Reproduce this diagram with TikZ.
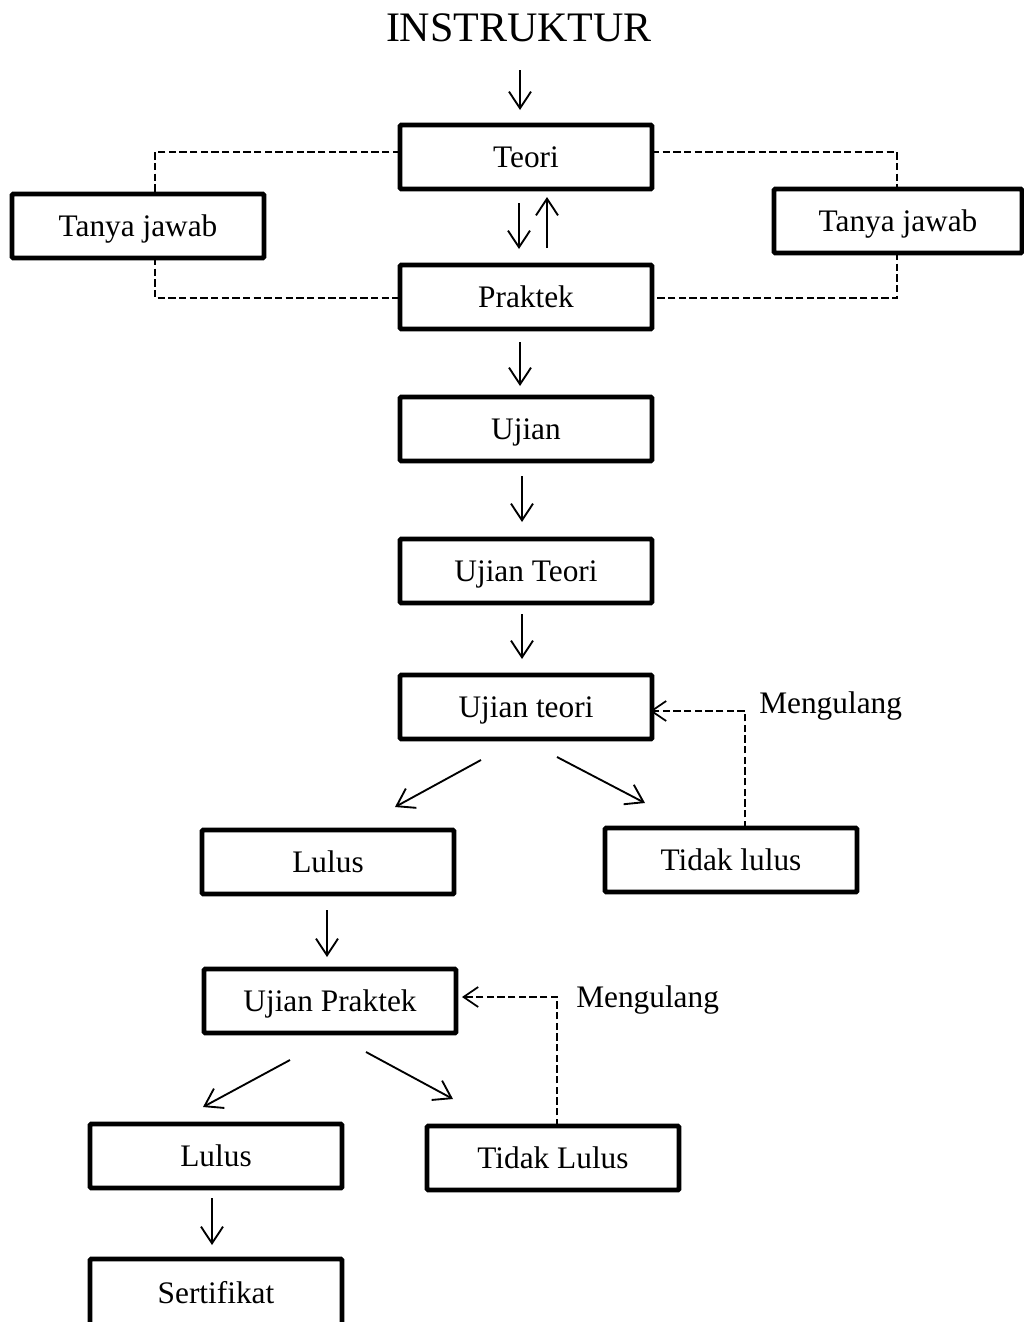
\documentclass[tikz,border=0pt]{standalone}
\usepackage{fontspec}
\setmainfont{Liberation Serif}
\usetikzlibrary{arrows.meta,calc}
\begin{document}
\begin{tikzpicture}[x=0.75pt,y=-0.75pt,
  box/.style={draw,line width=3.5pt,rounded corners=0.8pt,minimum width=189pt,minimum height=48pt,inner sep=0pt,outer sep=0pt,text height=16pt,text depth=0.8pt,font=\fontsize{23.5}{26}\selectfont},
  arr/.style={line width=1.4pt,-{Straight Barb[length=12.5pt,width=16.5pt,line width=1.4pt]}},
  dsh/.style={line width=1.4pt,dash pattern=on 5.5pt off 2.5pt},
  darr/.style={dsh,-{Straight Barb[length=11pt,width=15pt,line width=1.3pt]}},
  lbl/.style={font=\fontsize{23.5}{26}\selectfont,inner sep=0pt}]
\clip (0,0) rectangle (1024,1322);
\fill[white] (0,0) rectangle (1024,1322);
\node[anchor=base,inner sep=0pt,font=\fontsize{31.5}{34}\selectfont] (instr) at (519,41) {INSTRUKTUR};
\node[box] (teori) at (526,157) {Teori};
\node[box] (praktek) at (526,297) {Praktek};
\node[box] (tj1) at (138,226) {Tanya jawab};
\node[box,minimum width=186pt] (tj2) at (898,221) {Tanya jawab};
\node[box] (ujian) at (526,429) {Ujian};
\node[box] (ujT) at (526,571) {Ujian Teori};
\node[box] (ujt) at (526,707) {Ujian teori};
\node[box] (lulus) at (328,862) {Lulus};
\node[box] (tidak) at (731,860) {Tidak lulus};
\node[box] (ujp) at (330,1001) {Ujian Praktek};
\node[box] (lulus2) at (216,1156) {Lulus};
\node[box] (tidak2) at (553,1158) {Tidak Lulus};
\node[box,minimum height=51pt] (sert) at (216,1293) {Sertifikat};
\node[lbl,anchor=west] (m1) at (759,706) {Mengulang};
\node[lbl,anchor=west] (m2) at (576,1000) {Mengulang};
% arrows
\draw[arr] ($(instr.base)+(1,29)$) -- ($(teori.north)+(-6,-15)$);
\draw[arr] ($(teori.south)+(-7,14)$) -- ($(praktek.north)+(-7,-16)$);
\draw[arr] ($(praktek.north)+(21,-17)$) -- ($(teori.south)+(21,8)$);
\draw[arr] ($(praktek.south)+(-6,13)$) -- ($(ujian.north)+(-6,-11)$);
\draw[arr] ($(ujian.south)+(-4,15)$) -- ($(ujT.north)+(-4,-17)$);
\draw[arr] ($(ujT.south)+(-4,11)$) -- ($(ujt.north)+(-4,-16)$);
\draw[arr] ($(ujt.south)+(-45,21)$) -- ($(lulus.north)+(67,-23)$);
\draw[arr] ($(ujt.south)+(31,18)$) -- ($(tidak.north)+(-86,-25)$);
\draw[arr] ($(lulus.south)+(-1,16)$) -- ($(ujp.north)+(-3,-12)$);
\draw[arr] ($(ujp.south)+(-40,27)$) -- ($(lulus2.north)+(-13,-17)$);
\draw[arr] ($(ujp.south)+(36,19)$) -- ($(tidak2.north)+(-100,-27)$);
\draw[arr] ($(lulus2.south)+(-4,10)$) -- ($(sert.north)+(-4,-14)$);
% dashed
\draw[dsh] ($(teori.west)+(0,-5)$) -| ($(tj1.north)+(17,0)$);
\draw[dsh] ($(tj1.south)+(17,0)$) |- ($(praktek.west)+(0,1)$);
\draw[dsh] ($(teori.east)+(0,-5)$) -| ($(tj2.north)+(-1,0)$);
\draw[dsh] ($(tj2.south)+(-1,0)$) |- ($(praktek.east)+(0,1)$);
\draw[darr] ($(tidak.north)+(14,0)$) |- ($(ujt.east)+(-2,4)$);
\draw[darr] ($(tidak2.north)+(4,0)$) |- ($(ujp.east)+(6,-4)$);
\end{tikzpicture}
\end{document}
